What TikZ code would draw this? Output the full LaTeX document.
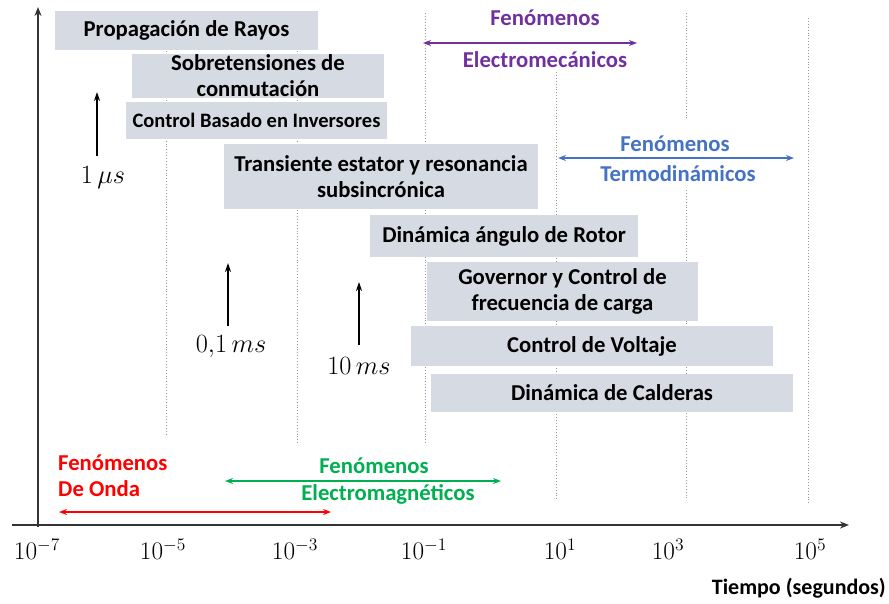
\documentclass[tikz,border=0pt]{standalone}
\usepackage{fontspec}
\setmainfont{Carlito}
\usetikzlibrary{arrows.meta}
\definecolor{boxgray}{RGB}{214,218,226}
\definecolor{purp}{RGB}{112,48,160}
\definecolor{blu}{RGB}{68,114,196}
\definecolor{grn}{RGB}{0,176,80}
\definecolor{rd}{RGB}{255,0,0}
\definecolor{dotgray}{RGB}{150,150,150}
\newcommand{\ticktext}[1]{\scalebox{1.22}{$#1$}}
\newcommand{\marktext}[1]{\scalebox{1.27}{$#1$}}
\begin{document}
\begin{tikzpicture}[x=1pt,y=-1pt,
  box/.style={fill=boxgray, inner sep=0pt, align=center, font=\fontsize{22.7}{26}\selectfont\bfseries},
  gridline/.style={dotgray, dotted, line width=0.9pt},
  lbl/.style={font=\fontsize{22.7}{26}\selectfont\bfseries, inner sep=0pt},
  ticklbl/.style={font=\huge, inner sep=0pt},
  mathlbl/.style={font=\huge, inner sep=0pt},
  dbl/.style={{Stealth[length=8pt,width=6pt]}-{Stealth[length=8pt,width=6pt]}, line width=1.4pt},
  uparrow/.style={-{Stealth[length=9pt,width=6pt]}, line width=1.3pt},
  axis/.style={-{Stealth[length=9pt,width=7pt]}, line width=1.5pt, black!80},
  ]
\useasboundingbox (0,0) rectangle (889,603);

% dotted grid lines
\draw[gridline] (166,13) -- (166,435);
\draw[gridline] (297,13) -- (297,444);
\draw[gridline] (425,13) -- (425,444);
\draw[gridline] (556,72) -- (556,500);
\draw[gridline] (686,13) -- (686,120);
\draw[gridline] (686,190) -- (686,500);
\draw[gridline] (808,18) -- (808,505);

% boxes
\node[box, minimum width=263pt, minimum height=39pt] (b1) at (186.5,30.5) {Propagación de Rayos};
\node[box, minimum width=252pt, minimum height=44pt] (b2) at (258,76) {Sobretensiones de\\conmutación};
\node[box, minimum width=261pt, minimum height=37pt, font=\fontsize{20.5}{24}\selectfont\bfseries] (b3) at (256.5,120.5) {Control Basado en Inversores};
\node[box, minimum width=314pt, minimum height=65pt] (b4) at (381,176.5) {Transiente estator y resonancia\\subsincrónica};
\node[box, minimum width=268pt, minimum height=42pt] (b5) at (504,236) {Dinámica ángulo de Rotor};
\node[box, minimum width=271pt, minimum height=59pt] (b6) at (562.5,291.5) {Governor y Control de\\frecuencia de carga};
\node[box, minimum width=362pt, minimum height=40pt] (b7) at (592,346) {Control de Voltaje};
\node[box, minimum width=362pt, minimum height=38pt] (b8) at (612,393) {Dinámica de Calderas};

% axes
\coordinate (ybot) at (38,527);
\coordinate (ytop) at (38,7);
\coordinate (xl) at (12,525);
\coordinate (xr) at (849,525);
\draw[axis] (ybot) -- (ytop);
\draw[axis] (xl) -- (xr);

% tick labels
\node[ticklbl] (t1) at (37,549) {\ticktext{10^{-7}}};
\node[ticklbl] (t2) at (163,549) {\ticktext{10^{-5}}};
\node[ticklbl] (t3) at (295,549) {\ticktext{10^{-3}}};
\node[ticklbl] (t4) at (424,549) {\ticktext{10^{-1}}};
\node[ticklbl] (t5) at (560,549) {\ticktext{10^{1}}};
\node[ticklbl] (t6) at (668,549) {\ticktext{10^{3}}};
\node[ticklbl] (t7) at (810,549) {\ticktext{10^{5}}};
\node[lbl, font=\fontsize{22}{26}\selectfont\bfseries, anchor=east] (tiempo) at (886,588) {Tiempo (segundos)};

% time markers
\node[mathlbl] (m1) at (103,178) {\marktext{1\,\mu s}};
\coordinate (m1a) at (97,156);
\coordinate (m1b) at (97,92);
\draw[uparrow] (m1a) -- (m1b);
\node[mathlbl] (m2) at (231,347) {\marktext{0{,}1\,ms}};
\coordinate (m2a) at (228,326);
\coordinate (m2b) at (228,263);
\draw[uparrow] (m2a) -- (m2b);
\node[mathlbl] (m3) at (359,366) {\marktext{10\,ms}};
\coordinate (m3a) at (359,345);
\coordinate (m3b) at (359,282);
\draw[uparrow] (m3a) -- (m3b);

% phenomena ranges
\node[lbl, text=purp] (p1) at (545,18) {Fenómenos};
\node[lbl, text=purp] (p2) at (545,60) {Electromecánicos};
\coordinate (pa) at (423,43);
\coordinate (pb) at (637,43);
\draw[dbl, purp] (pa) -- (pb);

\node[lbl, text=blu] (q1) at (675,144) {Fenómenos};
\node[lbl, text=blu] (q2) at (678,174) {Termodinámicos};
\coordinate (qa) at (558,158);
\coordinate (qb) at (794,158);
\draw[dbl, blu] (qa) -- (qb);

\node[lbl, text=grn] (g1) at (374,466) {Fenómenos};
\node[lbl, text=grn] (g2) at (388,494) {Electromagnéticos};
\coordinate (ga) at (225,481);
\coordinate (gb) at (501,481);
\draw[dbl, grn] (ga) -- (gb);

\node[lbl, text=rd, anchor=west] (r1) at (58,463) {Fenómenos};
\node[lbl, text=rd, anchor=west] (r2) at (58,489) {De Onda};
\coordinate (ra) at (59,512);
\coordinate (rb) at (331,512);
\draw[dbl, rd] (ra) -- (rb);
\end{tikzpicture}
\end{document}
